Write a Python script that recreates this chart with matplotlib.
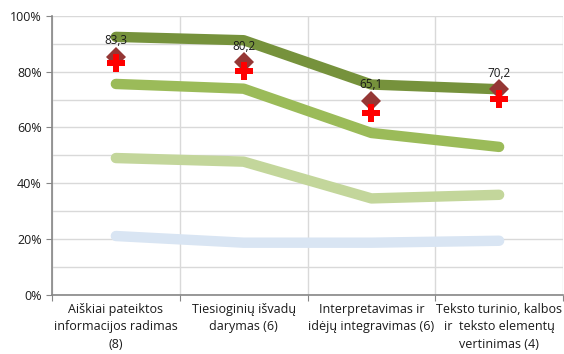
import matplotlib.pyplot as plt
import numpy as np

categories = ['Aiškiai pateiktos\ninformacijos radimas\n(8)',
              'Tiesioginių išvadų\ndarymas (6)',
              'Interpretavimas ir\nidėjų integravimas (6)',
              'Teksto turinio, kalbos\nir  teksto elementų\nvertinimas (4)']
top_line = [92.5, 91.3, 75.4, 73.7]
upper_line = [75.6, 73.9, 58.0, 53.0]
middle_line = [49.0, 47.7, 34.5, 35.8]
lower_line = [21.0, 18.6, 18.6, 19.3]
diamond_vals = [85.4, 83.4, 69.6, 73.7]
cross_vals = [83.3, 80.2, 65.1, 70.2]
cross_labels = ['83,3', '80,2', '65,1', '70,2']
y_ticks = [0, 20, 40, 60, 80, 100]

plt.rcParams['font.family'] = ['Open Sans', 'DejaVu Sans']

fig = plt.figure(figsize=(5.64, 3.54), dpi=100)
ax = fig.add_axes([52/564, 59.5/354, 511/564, 278.5/354])

x = np.arange(len(categories)) + 0.5
lw = 7.5
for vals, col in [(lower_line, '#D9E5F3'), (middle_line, '#C3D69B'),
                  (upper_line, '#9BBB59'), (top_line, '#76923C')]:
    ax.plot(x, vals, color=col, lw=lw, solid_capstyle='round',
            solid_joinstyle='round', zorder=3)

ax.plot(x, diamond_vals, ls='none', marker='D', ms=10, color='#953735',
        markeredgewidth=0, zorder=4)
ax.plot(x, cross_vals, ls='none', marker='P', ms=13, color='#FF0000',
        markeredgewidth=0, zorder=5)
for xi, d, lab in zip(x, diamond_vals, cross_labels):
    ax.annotate(lab, (xi, d), xytext=(0, 7), textcoords='offset points',
                ha='center', va='bottom', fontsize=8.5, color='#1a1a1a', zorder=6)

ax.set_xlim(0, 4)
ax.set_ylim(0, 100)
ax.set_yticks(y_ticks)
ax.set_yticklabels([f'{t}%' for t in y_ticks])
ax.set_yticks(np.arange(10, 100, 20), minor=True)
ax.set_xticks([0, 1, 2, 3, 4])
ax.set_xticklabels([])
ax.set_xticks(x, minor=True)
ax.set_xticklabels(categories, minor=True, linespacing=1.45)
ax.tick_params(axis='x', which='minor', length=0, pad=6, labelsize=9,
               labelcolor='#1a1a1a')
ax.tick_params(axis='x', which='major', length=4, color='#868686')
ax.tick_params(axis='y', which='major', length=4, color='#868686', labelsize=9,
               labelcolor='#1a1a1a')
ax.tick_params(axis='y', which='minor', length=0)

ax.grid(True, which='major', axis='both', color='#D9D9D9', lw=1, zorder=0)
ax.grid(True, which='minor', axis='y', color='#D9D9D9', lw=1, zorder=0)
ax.set_axisbelow(True)
for s in ['top', 'right']:
    ax.spines[s].set_visible(False)
for s in ['left', 'bottom']:
    ax.spines[s].set_color('#868686')
    ax.spines[s].set_linewidth(1.2)

fig.savefig('out.png', dpi=100)
